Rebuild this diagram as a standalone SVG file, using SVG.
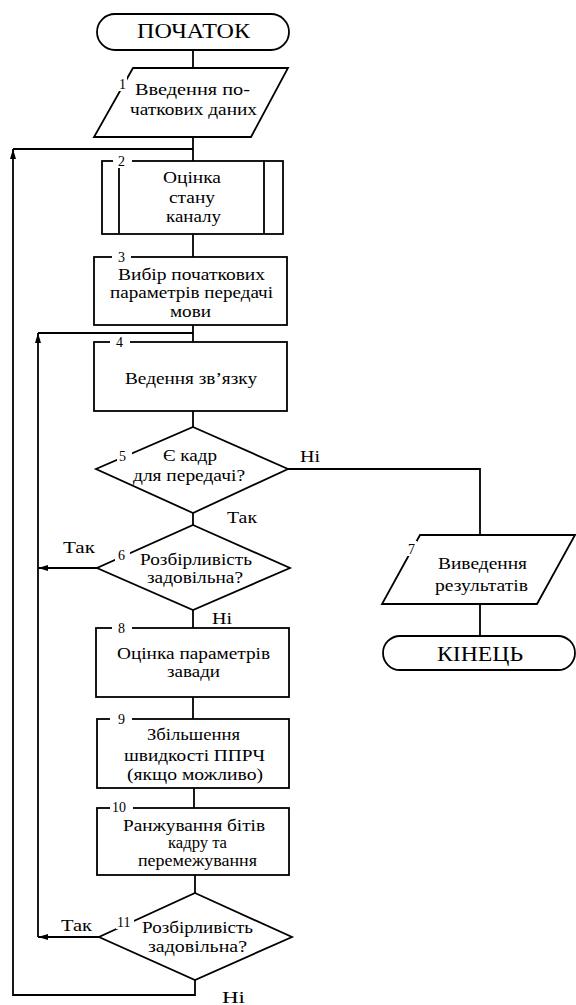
<svg xmlns="http://www.w3.org/2000/svg" width="576" height="1005" viewBox="0 0 576 1005" font-family="Liberation Serif, serif">
<style>
.s{fill:none;stroke:#000;stroke-width:1.8}
.w{fill:#fff;stroke:#000;stroke-width:1.8}
text{font-family:'Liberation Serif',serif;font-weight:normal;fill:#000}
.t{font-size:16px}
.big{font-size:20px}
.lb{font-size:17px}
.n{font-size:14px}
.g{fill:#fff;stroke:none}
</style>
<defs>
<marker id="ah" viewBox="0 0 10 6" refX="10" refY="3" markerWidth="10" markerHeight="6" markerUnits="userSpaceOnUse" orient="auto">
<path d="M0,0 L10,3 L0,6 Z" fill="#000"/>
</marker>
</defs>
<g id="connectors">
<line class="s" x1="193" y1="50" x2="193" y2="68"/>
<line class="s" x1="193" y1="137" x2="193" y2="161"/>
<line class="s" x1="193" y1="234" x2="193" y2="257"/>
<line class="s" x1="193" y1="325" x2="193" y2="342"/>
<line class="s" x1="193" y1="411" x2="193" y2="427"/>
<line class="s" x1="193" y1="513" x2="193" y2="525"/>
<line class="s" x1="193" y1="610" x2="193" y2="628"/>
<line class="s" x1="193" y1="697" x2="193" y2="719"/>
<line class="s" x1="194" y1="788" x2="194" y2="808"/>
<line class="s" x1="195" y1="875" x2="195" y2="893"/>
<polyline class="s" points="288,469 480,469 480,535"/>
<line class="s" x1="480" y1="604" x2="480" y2="636"/>
<path class="s" d="M195,980 V995 H13 V149" marker-end="url(#ah)"/>
<line class="s" x1="13" y1="149" x2="193" y2="149"/>
<path class="s" d="M38,937 V333" marker-end="url(#ah)"/>
<line class="s" x1="38" y1="333" x2="193" y2="333"/>
<line class="s" x1="97" y1="568" x2="38" y2="568" marker-end="url(#ah)"/>
<line class="s" x1="99" y1="937" x2="38" y2="937" marker-end="url(#ah)"/>
<text class="lb" x="300" y="462" textLength="20" lengthAdjust="spacingAndGlyphs">Ні</text>
<text class="lb" x="227" y="523" textLength="30" lengthAdjust="spacingAndGlyphs">Так</text>
<text class="lb" x="63" y="553" textLength="32" lengthAdjust="spacingAndGlyphs">Так</text>
<text class="lb" x="212" y="624" textLength="20" lengthAdjust="spacingAndGlyphs">Ні</text>
<text class="lb" x="61" y="931" textLength="31" lengthAdjust="spacingAndGlyphs">Так</text>
<text class="lb" x="222" y="1003" textLength="23" lengthAdjust="spacingAndGlyphs">Ні</text>
</g>
<g id="start">
<rect class="w" x="97" y="14" width="192" height="36" rx="18" ry="18"/>
<text class="big" x="137" y="38" textLength="113" lengthAdjust="spacingAndGlyphs">ПОЧАТОК</text>
</g>
<g id="n1">
<polygon class="w" points="133,68 288,68 251,137 94,137"/>
<rect class="g" x="118" y="77" width="9" height="14"/>
<text class="n" x="119" y="89">1</text>
<text class="t" x="135" y="95" textLength="115" lengthAdjust="spacingAndGlyphs">Введення  по-</text>
<text class="t" x="130" y="115" textLength="127" lengthAdjust="spacingAndGlyphs">чаткових даних</text>
</g>
<g id="n2">
<rect class="w" x="102" y="161" width="181" height="73"/>
<line class="s" x1="119" y1="161" x2="119" y2="234"/>
<line class="s" x1="264" y1="161" x2="264" y2="234"/>
<rect class="g" x="113" y="155" width="19" height="13"/>
<text class="n" x="118" y="166">2</text>
<text class="t" x="163" y="183" textLength="58" lengthAdjust="spacingAndGlyphs">Оцінка</text>
<text class="t" x="169" y="203" textLength="46" lengthAdjust="spacingAndGlyphs">стану</text>
<text class="t" x="166" y="222" textLength="55" lengthAdjust="spacingAndGlyphs">каналу</text>
</g>
<g id="n3">
<rect class="w" x="94" y="257" width="193" height="68"/>
<rect class="g" x="112" y="251" width="19" height="11"/>
<text class="n" x="118" y="262">3</text>
<text class="t" x="118" y="280" textLength="147" lengthAdjust="spacingAndGlyphs">Вибір початкових</text>
<text class="t" x="110" y="298" textLength="163" lengthAdjust="spacingAndGlyphs">параметрів передачі</text>
<text class="t" x="170" y="317" textLength="41" lengthAdjust="spacingAndGlyphs">мови</text>
</g>
<g id="n4">
<rect class="w" x="94" y="342" width="193" height="69"/>
<rect class="g" x="110" y="336" width="20" height="11"/>
<text class="n" x="116" y="347">4</text>
<text class="t" x="125" y="384" textLength="132" lengthAdjust="spacingAndGlyphs">Ведення зв’язку</text>
</g>
<g id="n5">
<polygon class="w" points="193,427 288,469 193,513 96,469"/>
<rect class="g" x="117" y="449" width="15" height="14"/>
<text class="n" x="119" y="461">5</text>
<text class="t" x="163" y="461" textLength="54" lengthAdjust="spacingAndGlyphs">Є кадр</text>
<text class="t" x="133" y="481" textLength="112" lengthAdjust="spacingAndGlyphs">для передачі?</text>
</g>
<g id="n6">
<polygon class="w" points="193,525 290,568 193,610 97,568"/>
<rect class="g" x="115" y="547" width="15" height="14"/>
<text class="n" x="118" y="560">6</text>
<text class="t" x="140" y="565" textLength="112" lengthAdjust="spacingAndGlyphs">Розбірливість</text>
<text class="t" x="147" y="583" textLength="96" lengthAdjust="spacingAndGlyphs">задовільна?</text>
</g>
<g id="n7">
<polygon class="w" points="420,535 575,535 537,604 382,604"/>
<rect class="g" x="406" y="541" width="11" height="15"/>
<text class="n" x="408" y="554">7</text>
<text class="t" x="438" y="569" textLength="89" lengthAdjust="spacingAndGlyphs">Виведення</text>
<text class="t" x="435" y="591" textLength="93" lengthAdjust="spacingAndGlyphs">результатів</text>
</g>
<g id="end">
<rect class="w" x="383" y="636" width="192" height="34" rx="17" ry="17"/>
<text class="big" x="437" y="661" textLength="86" lengthAdjust="spacingAndGlyphs">КІНЕЦЬ</text>
</g>
<g id="n8">
<rect class="w" x="96" y="628" width="193" height="69"/>
<rect class="g" x="112" y="622" width="20" height="11"/>
<text class="n" x="118" y="633">8</text>
<text class="t" x="117" y="659" textLength="153" lengthAdjust="spacingAndGlyphs">Оцінка параметрів</text>
<text class="t" x="167" y="677" textLength="53" lengthAdjust="spacingAndGlyphs">завади</text>
</g>
<g id="n9">
<rect class="w" x="97" y="719" width="192" height="69"/>
<rect class="g" x="110" y="713" width="22" height="11"/>
<text class="n" x="118" y="724">9</text>
<text class="t" x="147" y="740" textLength="93" lengthAdjust="spacingAndGlyphs">Збільшення</text>
<text class="t" x="124" y="761" textLength="141" lengthAdjust="spacingAndGlyphs">швидкості ППРЧ</text>
<text class="t" x="127" y="780" textLength="136" lengthAdjust="spacingAndGlyphs">(якщо можливо)</text>
</g>
<g id="n10">
<rect class="w" x="97" y="808" width="192" height="67"/>
<rect class="g" x="110" y="802" width="23" height="11"/>
<text class="n" x="112" y="812">10</text>
<text class="t" x="123" y="831" textLength="142" lengthAdjust="spacingAndGlyphs">Ранжування бітів</text>
<text class="t" x="168" y="848" textLength="59" lengthAdjust="spacingAndGlyphs">кадру та</text>
<text class="t" x="138" y="866" textLength="119" lengthAdjust="spacingAndGlyphs">перемежування</text>
</g>
<g id="n11">
<polygon class="w" points="195,893 292,937 195,980 99,937"/>
<rect class="g" x="116" y="915" width="18" height="14"/>
<text class="n" x="117" y="927">11</text>
<text class="t" x="142" y="933" textLength="111" lengthAdjust="spacingAndGlyphs">Розбірливість</text>
<text class="t" x="148" y="952" textLength="99" lengthAdjust="spacingAndGlyphs">задовільна?</text>
</g>
</svg>
